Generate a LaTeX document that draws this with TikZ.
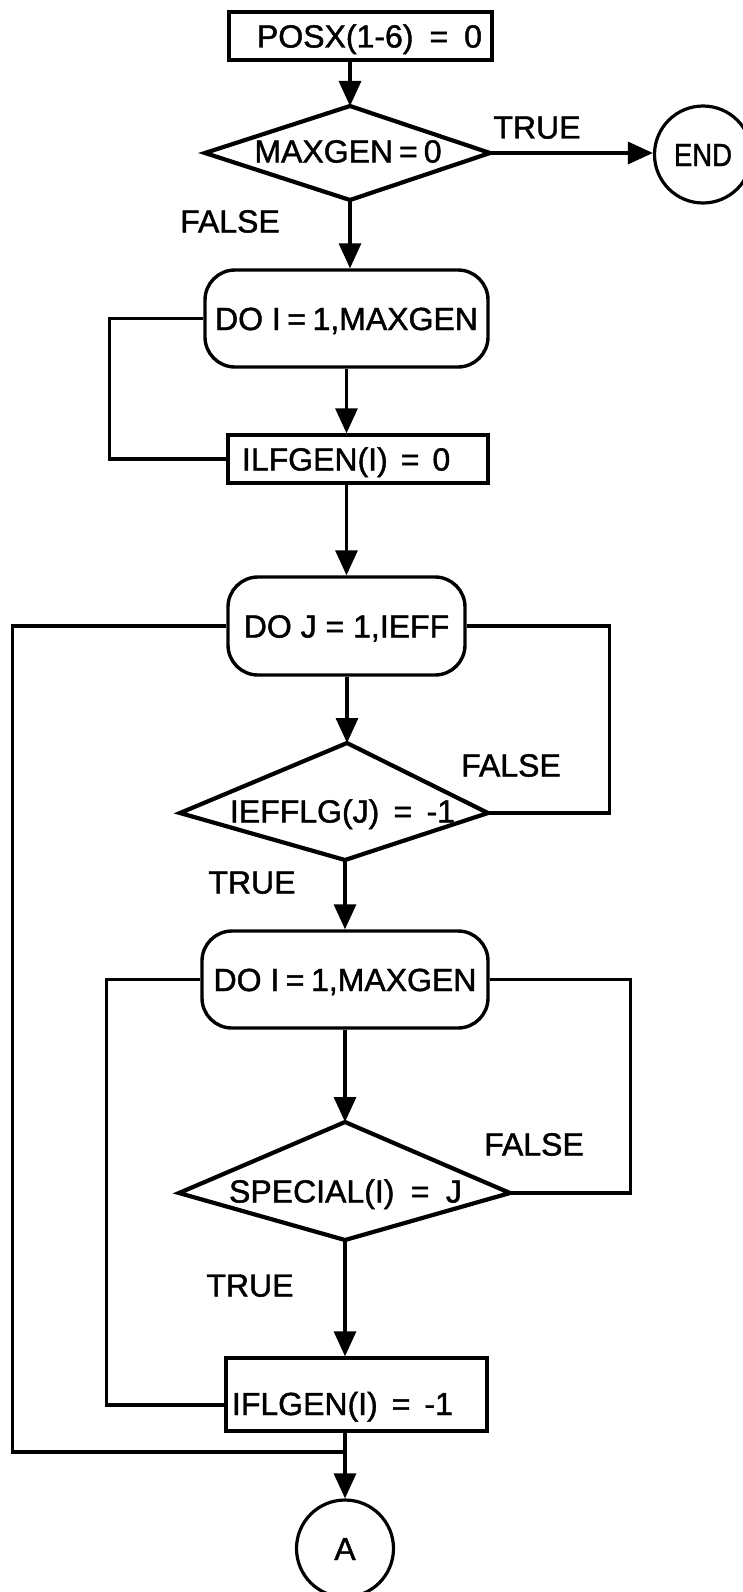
\documentclass[tikz,border=0pt]{standalone}
\usepackage{fontspec}
\setmainfont{Liberation Sans}[FakeBold=1.4]
\usetikzlibrary{arrows.meta,calc}
\tikzset{
  every node/.style={font=\fontsize{32}{38}\selectfont, inner sep=0pt, text height=23pt, text depth=0pt},
  procbox/.style={draw, line width=3.4pt, rectangle},
  loopbox/.style={draw, line width=3.4pt, rectangle, rounded corners=30pt},
  flow/.style={line width=3.2pt, -{Triangle[length=25pt,width=22pt]}},
  wire/.style={line width=3.2pt},
  decision/.style={draw, line width=4.2pt, line join=miter},
  term/.style={draw, line width=3.2pt, circle, minimum size=97pt}
}
\begin{document}
\begin{tikzpicture}[x=1pt,y=-1pt]
\useasboundingbox (0,0) rectangle (742,1592);

% ---- initialisation and the MAXGEN test
\node[procbox, minimum width=263pt, minimum height=48pt] (posx) at (360.5,36)
  {\makebox[263pt][l]{\hspace{28pt}POSX(1-6)\hspace{16pt}=\hspace{16pt}0}};

\coordinate (d1t) at (350,106);
\coordinate (d1r) at (490,153);
\coordinate (d1b) at (350,200);
\coordinate (d1l) at (205,153);
\draw[decision] (d1t) -- (d1r) -- (d1b) -- (d1l) -- cycle;
\node (d1) at (348,151) {MAXGEN\hspace{6pt}=\hspace{6pt}0};

\node[term] (END) at (703,154.5) {\scalebox{0.86}[1]{END}};
\node (t1) at (537,127) {TRUE};
\node (f1) at (230,221) {FALSE};

% ---- first generation loop
\node[loopbox, minimum width=283pt, minimum height=97pt] (doi1) at (346.5,318.5)
  {DO I\hspace{6.5pt}=\hspace{6.5pt}1,MAXGEN};
\node[procbox, minimum width=260pt, minimum height=48pt] (ilfgen) at (358,459)
  {\makebox[260pt][l]{\hspace{14pt}ILFGEN(I)\hspace{13pt}=\hspace{13pt}0}};

% ---- loop over J
\node[loopbox, minimum width=237pt, minimum height=98pt] (doj) at (346.5,626)
  {DO J = 1,IEFF};

\coordinate (d2t) at (347,743);
\coordinate (d2r) at (488,813);
\coordinate (d2b) at (345,860);
\coordinate (d2l) at (180,813);
\draw[decision] (d2t) -- (d2r) -- (d2b) -- (d2l) -- cycle;
\node (d2) at (342.5,811) {IEFFLG(J)\hspace{14.3pt}=\hspace{14.3pt}-1};
\node (f2) at (511,765) {FALSE};
\node (t2) at (252,882) {TRUE};

% ---- inner loop over I
\node[loopbox, minimum width=286pt, minimum height=97pt] (doi2) at (345,979.5)
  {DO I\hspace{6.5pt}=\hspace{6.5pt}1,MAXGEN};

\coordinate (d3t) at (345,1122);
\coordinate (d3r) at (510,1193);
\coordinate (d3b) at (345,1240);
\coordinate (d3l) at (179,1193);
\draw[decision] (d3t) -- (d3r) -- (d3b) -- (d3l) -- cycle;
\node (d3) at (345.5,1191) {SPECIAL(I)\hspace{16.4pt}=\hspace{16.4pt}J};
\node (f3) at (534,1144) {FALSE};
\node (t3) at (250,1285) {TRUE};

\node[procbox, minimum width=261pt, minimum height=73pt, text height=41pt] (iflgen) at (356.5,1394.5)
  {\makebox[261pt][l]{\hspace{6pt}IFLGEN(I)\hspace{14pt}=\hspace{14pt}-1}};
\coordinate (iflin) at ($(iflgen.west)+(0,10.5)$);

\node[term] (A) at (345,1548.5) {A};
\coordinate (j) at (345,1452);

% ---- connectors
\draw[flow] (d1t |- posx.south) -- (d1t);
\draw[flow] (d1r) -- (d1r -| END.west);
\draw[flow] (d1b) -- (d1b |- doi1.north);
\draw[flow] (doi1.south) -- (doi1.south |- ilfgen.north);
\draw[wire] (doi1.west) -- ++(-94,0) |- (ilfgen.west);
\draw[flow] (doj.north |- ilfgen.south) -- (doj.north);
\draw[flow] (d2t |- doj.south) -- (d2t);
\draw[wire] (doj.east) -- ++(143,0) |- (d2r);
\draw[flow] (d2b) -- (d2b |- doi2.north);
\draw[flow] (d3t |- doi2.south) -- (d3t);
\draw[wire] (doi2.east) -- ++(141,0) |- (d3r);
\draw[wire] (doi2.west) -- ++(-94,0) |- (iflin);
\draw[flow] (d3b) -- (d3b |- iflgen.north);
\draw[wire] (j |- iflgen.south) -- (j);
\draw[wire] (doj.west) -- ++(-214,0) |- (j);
\draw[flow] (j) -- (A.north);
\end{tikzpicture}
\end{document}
